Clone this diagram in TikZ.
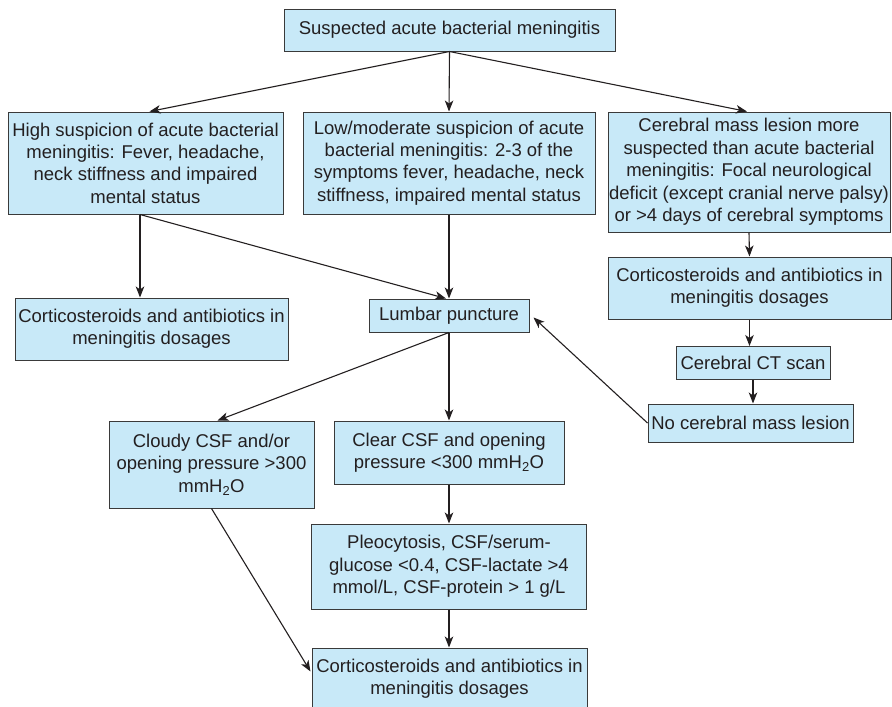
\documentclass[tikz,border=0pt]{standalone}
\usepackage{fontspec}
\setmainfont{Liberation Sans}
\usetikzlibrary{arrows.meta,calc}
\definecolor{boxfill}{HTML}{C8E9F8}
\definecolor{boxline}{HTML}{3A3A3A}
\definecolor{ink}{HTML}{231F20}
\begin{document}
\begin{tikzpicture}[x=1pt,y=-1pt,
  box/.style={draw=boxline, fill=boxfill, line width=1pt, align=center,
    inner sep=0pt, text=ink, font=\fontsize{18.5}{22.4}\selectfont},
  arr/.style={draw=ink, line width=1.1pt,
    -{Stealth[length=11pt,width=8.5pt,inset=3pt]}}]
\useasboundingbox (0,0) rectangle (892,707);

% boxes
\node[box, minimum width=331pt, minimum height=42pt] (top) at (449.5,30)
  {Suspected acute bacterial meningitis};
\node[box, minimum width=275pt, minimum height=102pt] (high) at (145.5,163)
  {High suspicion of acute bacterial\\meningitis: Fever, headache,\\neck stiffness and impaired\\mental status};
\node[box, minimum width=292pt, minimum height=102pt] (low) at (449,163)
  {Low/moderate suspicion of acute\\bacterial meningitis: 2-3 of the\\symptoms fever, headache, neck\\stiffness, impaired mental status};
\node[box, minimum width=282pt, minimum height=120pt] (mass) at (749,172)
  {Cerebral mass lesion more\\suspected than acute bacterial\\meningitis: Focal neurological\\deficit (except cranial nerve palsy)\\or >4 days of cerebral symptoms};
\node[box, minimum width=273pt, minimum height=62pt] (cortL) at (151.5,329)
  {Corticosteroids and antibiotics in\\meningitis dosages};
\node[box, minimum width=160pt, minimum height=33pt] (lumbar) at (449,315.5)
  {Lumbar puncture};
\node[box, minimum width=283pt, minimum height=62pt] (cortR) at (749.5,288)
  {Corticosteroids and antibiotics in\\meningitis dosages};
\node[box, minimum width=154pt, minimum height=33pt] (ct) at (753,363)
  {Cerebral CT scan};
\node[box, minimum width=205pt, minimum height=38pt] (nomass) at (750.5,423)
  {No cerebral mass lesion};
\node[box, minimum width=205pt, minimum height=87pt] (cloudy) at (211.5,464.5)
  {Cloudy CSF and/or\\opening pressure >300\\mmH\textsubscript{2}O};
\node[box, minimum width=230pt, minimum height=63pt] (clear) at (449,452.5)
  {Clear CSF and opening\\pressure <300 mmH\textsubscript{2}O};
\node[box, minimum width=275pt, minimum height=85pt] (pleo) at (449,566.5)
  {Pleocytosis, CSF/serum-\\glucose <0.4, CSF-lactate >4\\mmol/L, CSF-protein > 1 g/L};
\node[box, minimum width=275pt, minimum height=62pt] (cortB) at (449.5,679)
  {Corticosteroids and antibiotics in\\meningitis dosages};

% connectors
\coordinate (highout) at ($(high.south)+(-5.5,0)$);
\draw[arr] (top.south) -- ($(high.north)+(4,0)$);
\draw[arr] (top.south) -- (low.north);
\draw[arr] (top.south) -- ($(mass.north)+(-2,0)$);
\draw[arr] (highout) -- (highout |- cortL.north);
\draw[arr] (highout) -- ($(lumbar.north)+(-3,0)$);
\draw[arr] (low.south) -- (lumbar.north);
\draw[arr] (mass.south) -- (cortR.north);
\draw[arr] (cortR.south) -- (cortR.south |- ct.north);
\draw[arr] (ct.south) -- (ct.south |- nomass.north);
\draw[arr] (nomass.west) -- ($(lumbar.east)+(4,2)$);
\draw[arr] (lumbar.south) -- ($(cloudy.north)+(6,0)$);
\draw[arr] (lumbar.south) -- (clear.north);
\draw[arr] (clear.south) -- (pleo.north);
\draw[arr] (pleo.south) -- (pleo.south |- cortB.north);
\draw[arr] (cloudy.south) -- ($(cortB.north west)+(-1,24)$);
\end{tikzpicture}
\end{document}
